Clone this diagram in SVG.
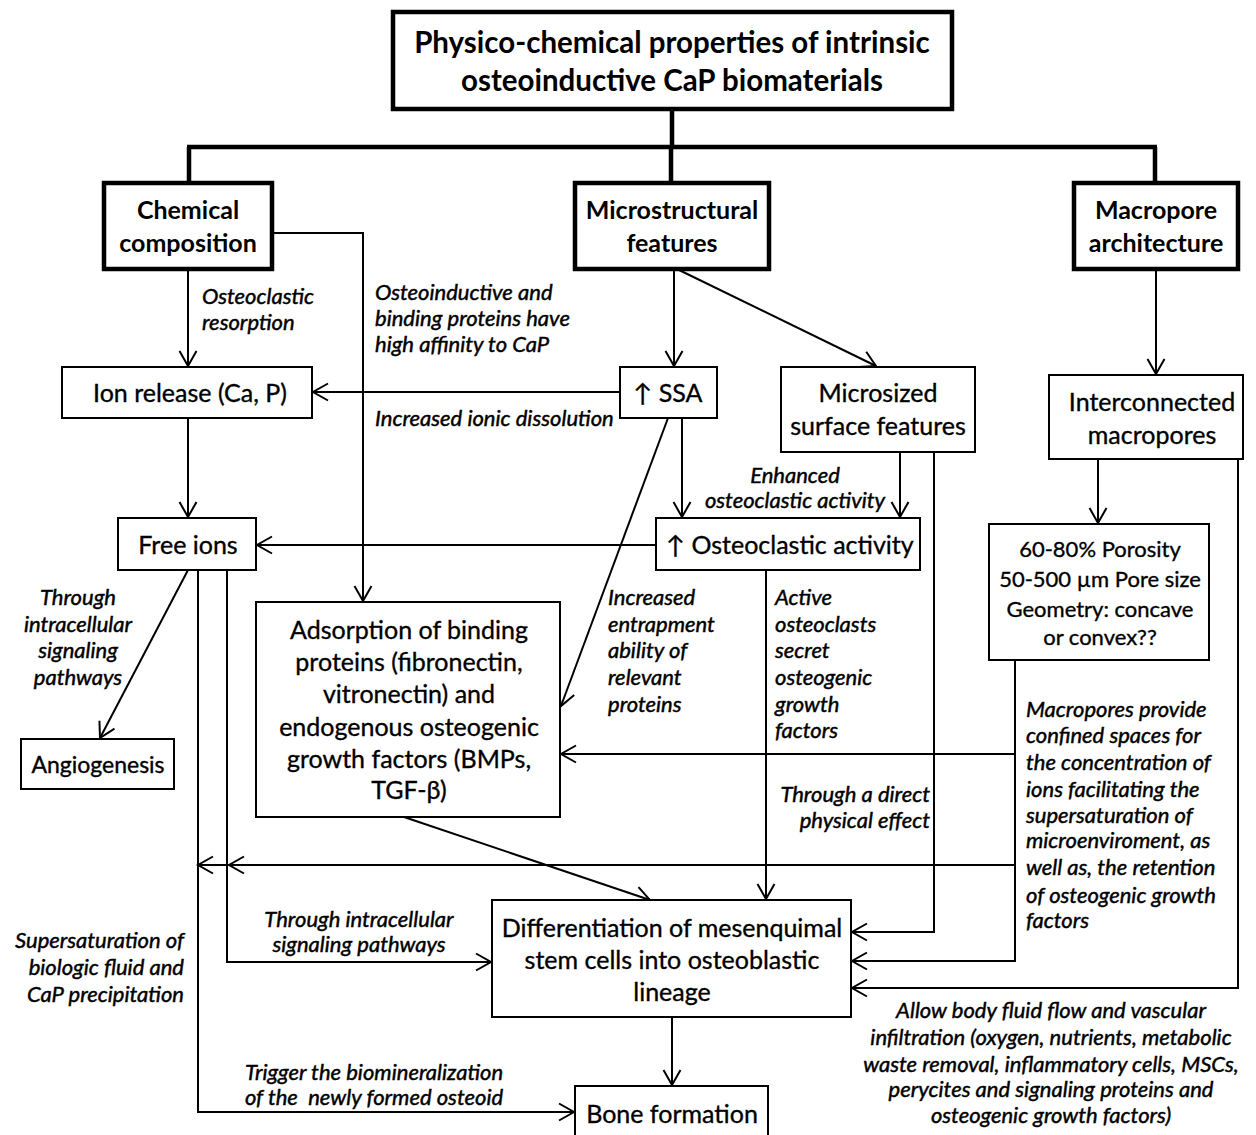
<svg xmlns="http://www.w3.org/2000/svg" width="1256" height="1135" viewBox="0 0 1256 1135">
<style>
.b{fill:#fff;stroke:#000;stroke-width:2}
.k{fill:#fff;stroke:#000;stroke-width:4.5}
text{font-family:Lato,"Open Sans","DejaVu Sans",sans-serif;fill:#000}
.t{font-size:25px;text-anchor:middle;stroke:#000;stroke-width:0.35}
.s{font-size:22px}
.h{font-size:25px;font-weight:bold;text-anchor:middle}
.ti{font-size:29.5px;font-weight:bold;text-anchor:middle}
.l{font-size:22px;font-style:italic;stroke:#000;stroke-width:0.45}
.m{text-anchor:middle}
.e{text-anchor:end}
.c{fill:none;stroke:#000;stroke-width:2}
.ck{fill:none;stroke:#000;stroke-width:4.5}
</style>
<defs>
<marker id="a" markerUnits="userSpaceOnUse" markerWidth="22" markerHeight="24" viewBox="-19 -12 22 24" refX="0" refY="0" orient="auto">
<path d="M-15,-8.5 L0,0 L-15,8.5" fill="none" stroke="#000" stroke-width="2"/>
</marker>
</defs>
<g id="connectors">
<path class="ck" d="M672,109 V147 M187,147 H1157 M189,147 V183 M671,147 V183 M1155,147 V183"/>
<g class="c" marker-end="url(#a)">
<path d="M188,269 V366"/>
<path d="M272,233 H363 V601"/>
<path d="M674,269 V366"/>
<path d="M677,269 L876,366"/>
<path d="M1156,269 V374"/>
<path d="M620,392 H313"/>
<path d="M188,418 V517"/>
<path d="M682,418 V517"/>
<path d="M668,418 L561,706"/>
<path d="M900,452 V517"/>
<path d="M934,452 V932 H852"/>
<path d="M656,545 H257"/>
<path d="M1098,459 V523"/>
<path d="M1238,459 V988 H852"/>
<path d="M1015,660 V961 H852"/>
<path d="M1015,754 H561"/>
<path d="M1015,865 H229"/>
<path d="M229,865 H198"/>
<path d="M766,570 V899"/>
<path d="M188,570 L100,738"/>
<path d="M198,570 V1112 H574"/>
<path d="M227,570 V962 H491"/>
<path d="M404,817 L650,900"/>
<path d="M672,1017 V1085"/>
</g>
</g>
<g id="title"><rect class="k" x="393" y="12" width="559" height="97"/>
<text class="ti" x="672" y="53">Physico-chemical properties of intrinsic</text>
<text class="ti" x="672" y="91">osteoinductive CaP biomaterials</text></g>
<g id="chemical"><rect class="k" x="104" y="183" width="168" height="86"/>
<text class="h" x="188" y="219">Chemical</text><text class="h" x="188" y="252">composition</text></g>
<g id="microstructural"><rect class="k" x="575" y="183" width="194" height="86"/>
<text class="h" x="672" y="219">Microstructural</text><text class="h" x="672" y="252">features</text></g>
<g id="macropore"><rect class="k" x="1074" y="183" width="164" height="86"/>
<text class="h" x="1156" y="219">Macropore</text><text class="h" x="1156" y="252">architecture</text></g>
<g id="ionrelease"><rect class="b" x="62" y="367" width="250" height="51"/>
<text class="t" x="190" y="402">Ion release (Ca, P)</text></g>
<g id="ssa"><rect class="b" x="620" y="367" width="97" height="51"/>
<text class="t" x="668" y="402">↑ SSA</text></g>
<g id="microsized"><rect class="b" x="781" y="367" width="194" height="85"/>
<text class="t" x="878" y="402">Microsized</text><text class="t" x="878" y="435">surface features</text></g>
<g id="interconnected"><rect class="b" x="1049" y="375" width="194" height="84"/>
<text class="t" x="1152" y="411">Interconnected</text><text class="t" x="1152" y="444">macropores</text></g>
<g id="freeions"><rect class="b" x="118" y="518" width="138" height="52"/>
<text class="t" x="188" y="554">Free ions</text></g>
<g id="osteoclastic"><rect class="b" x="656" y="518" width="264" height="52"/>
<text class="t" x="790" y="554">↑ Osteoclastic activity</text></g>
<g id="porosity"><rect class="b" x="989" y="524" width="220" height="136"/>
<text class="t s" x="1100" y="557">60-80% Porosity</text>
<text class="t s" x="1100" y="587">50-500 µm Pore size</text>
<text class="t s" x="1100" y="617">Geometry: concave</text>
<text class="t s" x="1100" y="645">or convex??</text></g>
<g id="adsorption"><rect class="b" x="256" y="602" width="304" height="215"/>
<text class="t" x="409" y="639">Adsorption of binding</text>
<text class="t" x="409" y="671">proteins (fibronectin,</text>
<text class="t" x="409" y="703">vitronectin) and</text>
<text class="t" x="409" y="736">endogenous osteogenic</text>
<text class="t" x="409" y="768">growth factors (BMPs,</text>
<text class="t" x="409" y="799">TGF-β)</text></g>
<g id="angiogenesis"><rect class="b" x="21" y="739" width="153" height="50"/>
<text class="t" x="98" y="773" style="font-size:23px">Angiogenesis</text></g>
<g id="differentiation"><rect class="b" x="492" y="900" width="359" height="117"/>
<text class="t" x="672" y="937">Differentiation of mesenquimal</text>
<text class="t" x="672" y="969">stem cells into osteoblastic</text>
<text class="t" x="672" y="1001">lineage</text></g>
<g id="boneformation"><rect class="b" x="575" y="1086" width="193" height="60"/>
<text class="t" x="672" y="1123">Bone formation</text></g>
<g id="labels">
<text class="l" x="202" y="304">Osteoclastic</text>
<text class="l" x="202" y="330">resorption</text>
<text class="l" x="375" y="300">Osteoinductive and</text>
<text class="l" x="375" y="326">binding proteins have</text>
<text class="l" x="375" y="352">high affinity to CaP</text>
<text class="l" x="375" y="426">Increased ionic dissolution</text>
<text class="l m" x="795" y="483">Enhanced</text>
<text class="l m" x="795" y="508">osteoclastic activity</text>
<text class="l m" x="78" y="605">Through</text>
<text class="l m" x="78" y="632">intracellular</text>
<text class="l m" x="78" y="658">signaling</text>
<text class="l m" x="78" y="685">pathways</text>
<text class="l" x="608" y="605">Increased</text>
<text class="l" x="608" y="632">entrapment</text>
<text class="l" x="608" y="658">ability of</text>
<text class="l" x="608" y="685">relevant</text>
<text class="l" x="608" y="712">proteins</text>
<text class="l" x="775" y="605">Active</text>
<text class="l" x="775" y="632">osteoclasts</text>
<text class="l" x="775" y="658">secret</text>
<text class="l" x="775" y="685">osteogenic</text>
<text class="l" x="775" y="712">growth</text>
<text class="l" x="775" y="738">factors</text>
<text class="l e" x="930" y="802">Through a direct</text>
<text class="l e" x="930" y="828">physical effect</text>
<text class="l" x="1026" y="717">Macropores provide</text>
<text class="l" x="1026" y="743">confined spaces for</text>
<text class="l" x="1026" y="770">the concentration of</text>
<text class="l" x="1026" y="797">ions facilitating the</text>
<text class="l" x="1026" y="823">supersaturation of</text>
<text class="l" x="1026" y="848">microenviroment, as</text>
<text class="l" x="1026" y="875">well as, the retention</text>
<text class="l" x="1026" y="903">of osteogenic growth</text>
<text class="l" x="1026" y="928">factors</text>
<text class="l m" x="359" y="927">Through intracellular</text>
<text class="l m" x="359" y="952">signaling pathways</text>
<text class="l e" x="184" y="948">Supersaturation of</text>
<text class="l e" x="184" y="975">biologic fluid and</text>
<text class="l e" x="184" y="1002">CaP precipitation</text>
<text class="l m" x="374" y="1080">Trigger the biomineralization</text>
<text class="l m" x="374" y="1105" xml:space="preserve">of the  newly formed osteoid</text>
<text class="l m" x="1051" y="1018">Allow body fluid flow and vascular</text>
<text class="l m" x="1051" y="1045">infiltration (oxygen, nutrients, metabolic</text>
<text class="l m" x="1051" y="1072">waste removal, inflammatory cells, MSCs,</text>
<text class="l m" x="1051" y="1097">perycites and signaling proteins and</text>
<text class="l m" x="1051" y="1123">osteogenic growth factors)</text>
</g>
</svg>
